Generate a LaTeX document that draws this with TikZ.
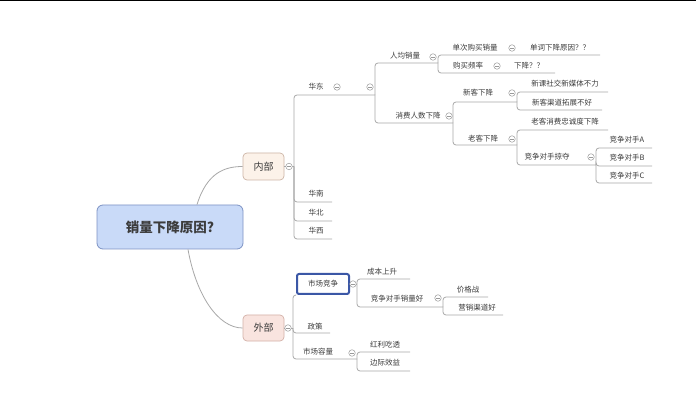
\documentclass[tikz,border=0pt]{standalone}
\usepackage{fontspec}
\setmainfont{Noto Sans CJK SC}
\definecolor{lineg}{HTML}{A8A8A8}
\definecolor{textg}{HTML}{3C3C3C}
\definecolor{circg}{HTML}{9A9A9A}
\definecolor{rootfill}{HTML}{C9DAF8}
\definecolor{rootdraw}{HTML}{7D93C4}
\definecolor{infill}{HTML}{FCF2E9}
\definecolor{indraw}{HTML}{CDB5A6}
\definecolor{outfill}{HTML}{F9E4DF}
\definecolor{outdraw}{HTML}{D4B1A8}
\definecolor{selblue}{HTML}{3B57A6}
\begin{document}
\begin{tikzpicture}[x=1pt,y=-1pt,
  ln/.style={draw=lineg, line width=0.8pt, rounded corners=3pt},
  rootln/.style={draw=lineg, line width=0.8pt},
  lbl/.style={font=\fontsize{7.5}{9}\selectfont, text=textg, inner sep=0pt},
  cb/.style={circle, draw=circg, line width=0.5pt, fill=white, minimum size=6.5pt, inner sep=0pt,
    path picture={\draw[circg, line width=0.5pt] ([xshift=-1.8pt]path picture bounding box.center) -- ([xshift=1.8pt]path picture bounding box.center);}},
  rootbox/.style={draw=rootdraw, fill=rootfill, line width=0.8pt, rounded corners=6pt, minimum width=146pt, minimum height=44pt, inner sep=0pt, text=textg, font=\fontsize{13.5}{15}\selectfont\bfseries},
  inbox/.style={draw=indraw, fill=infill, line width=0.7pt, rounded corners=4pt, minimum width=41pt, minimum height=27pt, inner sep=0pt, text=textg, font=\fontsize{10}{12}\selectfont},
  outbox/.style={draw=outdraw, fill=outfill, line width=0.7pt, rounded corners=4pt, minimum width=41pt, minimum height=26pt, inner sep=0pt, text=textg, font=\fontsize{10}{12}\selectfont},
  selbox/.style={draw=selblue, fill=white, line width=2pt, rounded corners=2pt, minimum width=52pt, minimum height=20pt, inner sep=0pt, text=textg, font=\fontsize{7.5}{9}\selectfont},
]
\useasboundingbox (0,0) rectangle (696,403);
\fill[white] (0,0) rectangle (696,403);
\draw[black, line width=1.5pt] (0,0.75) -- (696,0.75);

% main nodes
\node[rootbox] (root) at (170,227) {销量下降原因?};
\node[inbox] (nei) at (263.5,166.5) {内部};
\node[outbox] (wai) at (263.5,328) {外部};
\node[selbox] (sc) at (323,284) {市场竞争};

\draw[rootln] ([xshift=27pt]root.north) .. controls +(10,-32) and +(-18,0) .. (nei.west);
\draw[rootln] ([xshift=18pt]root.south) .. controls +(8,45) and +(-25,0) .. (wai.west);

% bracket coordinates
\coordinate (bNei) at (294,166.5);
\coordinate (bHD) at (375,95);
\coordinate (bRJ) at (438,63);
\coordinate (bXF) at (453,123);
\coordinate (bXK) at (517,102);
\coordinate (bLK) at (517,145);
\coordinate (bJZ) at (596,165);
\coordinate (bWai) at (293,328);
\coordinate (bSC) at (357,284);
\coordinate (bJX) at (443,307);
\coordinate (bRL) at (357,359);

% lines
\draw[ln] (nei.east) -- (bNei);
\draw[ln] (bNei) |- (bHD);
\draw[ln] (bNei) |- (332,202);
\draw[ln] (bNei) |- (332,221);
\draw[ln] (bNei) |- (332,239);

\draw[ln] (bHD) |- (bRJ);
\draw[ln] (bHD) |- (bXF);

\draw[ln] (bRJ) |- (600,55);
\draw[ln] (bRJ) |- (555,73);

\draw[ln] (bXF) |- (bXK);
\draw[ln] (bXF) |- (bLK);

\draw[ln] (bXK) |- (608,92);
\draw[ln] (bXK) |- (602,110);

\draw[ln] (bLK) |- (608,130);
\draw[ln] (bLK) |- (bJZ);

\draw[ln] (bJZ) |- (652,148);
\draw[ln] (bJZ) |- (652,166);
\draw[ln] (bJZ) |- (652,183);

\draw[ln] (wai.east) -- (bWai);
\draw[ln] (bWai) |- (sc.south west);
\draw[ln] (bWai) |- (330,333);
\draw[ln] (bWai) |- (bRL);

\draw[ln] (sc.east) -- (bSC);
\draw[ln] (bSC) |- (410,279);
\draw[ln] (bSC) |- (bJX);

\draw[ln] (bJX) |- (488,297);
\draw[ln] (bJX) |- (503,315);

\draw[ln] (bRL) |- (410,352);
\draw[ln] (bRL) |- (410,371);

% collapse circles
\node[cb] (cNei) at (289,166.5) {};
\node[cb] (cWai) at (288,328) {};
\node[cb] (cHD1) at (337,87) {};
\node[cb] (cHD2) at (370,87) {};
\node[cb] (cRJ) at (433,57) {};
\node[cb] (cDC) at (512,48) {};
\node[cb] (cGM) at (497,66) {};
\node[cb] (cXF) at (449,116) {};
\node[cb] (cXK) at (512,93) {};
\node[cb] (cLK) at (512,139) {};
\node[cb] (cJZ) at (591,157) {};
\node[cb] (cSC) at (353,284) {};
\node[cb] (cJX) at (438,298) {};
\node[cb] (cRL) at (352,353) {};

% labels
\node[lbl] (hd) at (316,87) {华东};
\node[lbl] (hn) at (316,194) {华南};
\node[lbl] (hb) at (316,213) {华北};
\node[lbl] (hx) at (316,231) {华西};
\node[lbl] (rj) at (405,56) {人均销量};
\node[lbl] (xf) at (418,116) {消费人数下降};
\node[lbl] (dc) at (475,48) {单次购买销量};
\node[lbl] (dcx) at (560,48) {单词下降原因？？};
\node[lbl] (gm) at (468,66) {购买频率};
\node[lbl] (gmx) at (529,66) {下降？？};
\node[lbl] (xk) at (478,93) {新客下降};
\node[lbl] (lk) at (483,139) {老客下降};
\node[lbl] (xk1) at (565,84) {新课社交新媒体不力};
\node[lbl] (xk2) at (562,103) {新客渠道拓展不好};
\node[lbl] (lk1) at (565,122) {老客消费忠诚度下降};
\node[lbl] (lk2) at (547,157) {竞争对手掠夺};
\node[lbl] (ja) at (627,140) {竞争对手A};
\node[lbl] (jb) at (627,158) {竞争对手B};
\node[lbl] (jc) at (627,176) {竞争对手C};
\node[lbl] (cb1) at (382,272) {成本上升};
\node[lbl] (jx) at (397,299) {竞争对手销量好};
\node[lbl] (jg) at (468,290) {价格战};
\node[lbl] (yx) at (477,308) {营销渠道好};
\node[lbl] (zc) at (315,327) {政策};
\node[lbl] (rl) at (318,352) {市场容量};
\node[lbl] (hl) at (385,345) {红利吃透};
\node[lbl] (bj) at (385,363) {边际效益};
\end{tikzpicture}
\end{document}
